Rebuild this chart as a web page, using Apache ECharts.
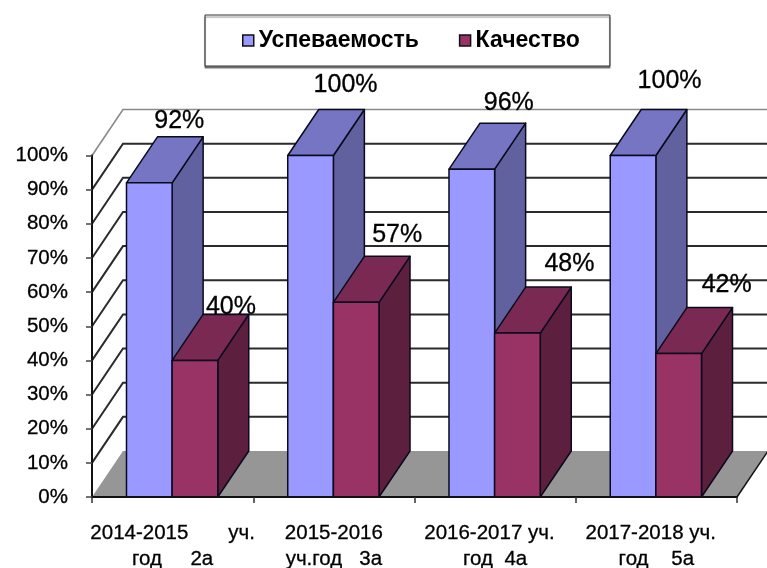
<!DOCTYPE html>
<html><head><meta charset="utf-8">
<style>html,body{margin:0;padding:0;background:#fff}#chart{width:767px;height:568px;filter:blur(0.45px)}</style>
<script src="https://cdn.jsdelivr.net/npm/echarts@6/dist/echarts.min.js"></script>
</head><body><div id="chart"></div>
<script>
const categories = ["2014-2015       уч.\nгод     2а", "2015-2016\nуч.год   3а", "2016-2017 уч.  \nгод  4а", "2017-2018 уч.  \nгод    5а"];
const uspevaemost = [92, 100, 96, 100];
const kachestvo = [40, 57, 48, 42];
const yTicks = [0, 10, 20, 30, 40, 50, 60, 70, 80, 90, 100];

const DX = 31, DY = -46, BAR_RATIO = 0.283, FONT = '"Liberation Sans", Arial, sans-serif';
const labelShiftA = [[30, -62], [35, -70], [37, -66], [36.5, -74]];
const labelShiftB = [[36, -53], [41, -67], [52, -69], [48, -68]];

function barSeries(name, values, side, colors, shifts) {
  return {
    name, type: 'custom', coordinateSystem: 'cartesian2d', z: 3, silent: true,
    itemStyle: { color: colors[0] },
    data: values.map((v, i) => [i, v]),
    encode: { x: 0, y: 1 },
    renderItem(params, api) {
      const i = api.value(0), v = api.value(1);
      const c = api.coord([i, v]), base = api.coord([i, 0]);
      const w = api.size([1, 0])[0] * BAR_RATIO;
      const x0 = c[0] + (side < 0 ? -w : 0) - 0.5, x1 = x0 + w, yT = c[1], yB = base[1];
      const st = { stroke: '#0a0a1e', lineWidth: 1.5, lineJoin: 'round' };
      const sh = shifts[params.dataIndex];
      return { type: 'group', children: [
        { type: 'polygon', shape: { points: [[x1, yT], [x1 + DX, yT + DY], [x1 + DX, yB + DY], [x1, yB]] }, style: { fill: colors[2], ...st } },
        { type: 'polygon', shape: { points: [[x0, yT], [x0 + DX, yT + DY], [x1 + DX, yT + DY], [x1, yT]] }, style: { fill: colors[1], ...st } },
        { type: 'rect', shape: { x: x0, y: yT, width: w, height: yB - yT }, style: { fill: colors[0], ...st } },
        { type: 'text', z2: 50, style: { x: (x0 + x1) / 2 + sh[0], y: yT + sh[1], text: v + '%', fill: '#000', font: '25px ' + FONT, align: 'center', verticalAlign: 'middle', stroke: '#000', lineWidth: 0.3 } }
      ] };
    }
  };
}

const option = {
  animation: false,
  backgroundColor: '#fff',
  grid: { left: 92, right: 30, top: 155.5, bottom: 71, outerBoundsMode: 'none' },
  legend: {
    left: 205, top: 15, orient: 'horizontal',
    padding: [14, 30, 14, 37], itemWidth: 11, itemHeight: 11, itemGap: 40,
    backgroundColor: '#fff', borderColor: '#333', borderWidth: 1,
    shadowColor: 'rgba(0,0,0,0.45)', shadowBlur: 1, shadowOffsetY: 2,
    selectedMode: false,
    textStyle: { fontFamily: FONT, fontSize: 23, fontWeight: 'bold', color: '#000' },
    data: [
      { name: 'Успеваемость', icon: 'rect', itemStyle: { color: '#9999ff', borderColor: '#111', borderWidth: 1.5 } },
      { name: 'Качество', icon: 'rect', itemStyle: { color: '#993366', borderColor: '#111', borderWidth: 1.5 } }
    ]
  },
  xAxis: {
    type: 'category', data: categories, z: 6,
    axisLine: { lineStyle: { color: '#111', width: 2 } },
    axisTick: { show: true, length: 6, lineStyle: { color: '#333', width: 1.5 } },
    axisLabel: { interval: 0, margin: 23, fontFamily: FONT, fontSize: 20.5, lineHeight: 26, color: '#000', textBorderColor: '#000', textBorderWidth: 0.3 }
  },
  yAxis: {
    type: 'value', min: 0, max: 100, interval: 10, z: 6,
    axisLine: { show: true, lineStyle: { color: '#111', width: 2 } },
    axisTick: { show: true, length: 6, lineStyle: { color: '#444', width: 1.5 } },
    splitLine: { show: false },
    axisLabel: { margin: 24, fontFamily: FONT, fontSize: 20.5, color: '#000', textBorderColor: '#000', textBorderWidth: 0.3, formatter: '{value}%' }
  },
  series: [
    { type: 'custom', coordinateSystem: 'cartesian2d', z: 1, silent: true,
      data: yTicks.map(v => [0, v]), encode: { x: 0, y: 1 },
      renderItem(params, api) {
        const v = api.value(1), y = api.coord([0, v])[1], cs = params.coordSys;
        if (v === 0) return { type: 'group', children: [] };
        const top = v === 100;
        return { type: 'polyline',
          shape: { points: [[cs.x, y], [cs.x + DX, y + DY], [cs.x + cs.width + DX, y + DY]] },
          style: { fill: null, stroke: top ? '#8a8a8a' : '#2b2b2b', lineWidth: top ? 1.6 : 2 } };
      } },
    { type: 'custom', coordinateSystem: 'cartesian2d', z: 2, silent: true,
      data: [[0, 0]], encode: { x: 0, y: 1 },
      renderItem(params, api) {
        const y = api.coord([0, 0])[1], cs = params.coordSys, xr = cs.x + cs.width;
        return { type: 'group', children: [
          { type: 'polygon', shape: { points: [[cs.x, y], [cs.x + DX, y + DY], [xr + DX, y + DY], [xr, y]] }, style: { fill: '#969696' } },
          { type: 'line', shape: { x1: xr, y1: y, x2: xr + DX, y2: y + DY }, style: { stroke: '#111', lineWidth: 1.5 } }
        ] };
      } },
    barSeries('Успеваемость', uspevaemost, -1, ['#9999ff', '#7575c4', '#61619f'], labelShiftA),
    barSeries('Качество', kachestvo, 1, ['#993366', '#7a2952', '#5c1f3d'], labelShiftB)
  ]
};
const chart = echarts.init(document.getElementById('chart'));
chart.setOption(option);
</script></body></html>
